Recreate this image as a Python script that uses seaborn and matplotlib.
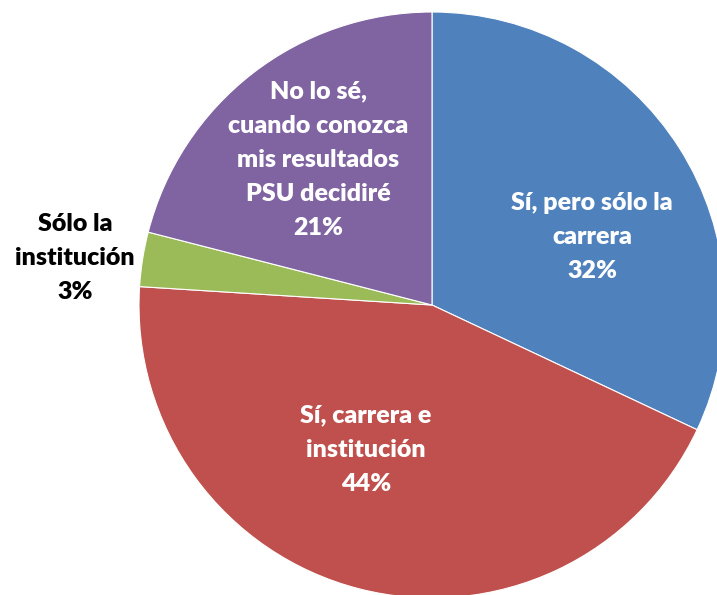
import matplotlib
matplotlib.use("Agg")
import matplotlib.pyplot as plt
import seaborn as sns

sns.set_style("white")
plt.rcParams['font.family'] = ['Lato', 'DejaVu Sans']

# Data
categories = ['Sí, pero sólo la\ncarrera', 'Sí, carrera e\ninstitución',
              'Sólo la\ninstitución', 'No lo sé,\ncuando conozca\nmis resultados\nPSU decidiré']
values = [32, 44, 3, 21]
colors = ['#4F81BD', '#C0504D', '#9BBB59', '#8064A2']
label_colors = ['white', 'white', 'black', 'white']
# label anchor positions (in pie radius units)
label_pos = [(0.546, 0.232), (-0.225, -0.495), (-1.218, 0.160), (-0.389, 0.495)]

fig = plt.figure(figsize=(7.17, 5.95), dpi=100)
ax = fig.add_axes([0, 0, 1, 1])
ax.pie(values, colors=colors, startangle=90, counterclock=False, radius=1,
       wedgeprops=dict(edgecolor='white', linewidth=0.8))

for cat, val, (x, y), c in zip(categories, values, label_pos, label_colors):
    ax.text(x, y, f'{cat}\n{val}%', ha='center', va='center', color=c,
            fontsize=18, fontweight='heavy', linespacing=1.68)

scale = 293.0
ax.set_xlim(-432 / scale, (717 - 432) / scale)
ax.set_ylim(-(595 - 305) / scale, 305 / scale)
ax.set_aspect('auto')
ax.axis('off')

fig.savefig('out.png', dpi=100)
